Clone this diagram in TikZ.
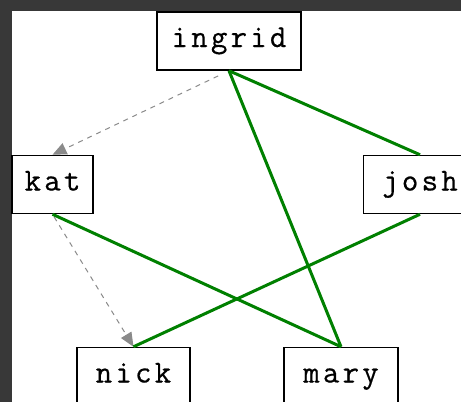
\documentclass[tikz,border=0pt]{standalone}
\usepackage{fontspec}
\newfontfamily\lblfont{Latin Modern Mono}[LetterSpace=10,FakeBold=0.5]
\usetikzlibrary{arrows.meta}
\definecolor{edgegreen}{HTML}{008000}
\definecolor{framegray}{HTML}{383838}
\definecolor{dashgray}{HTML}{8A8A8A}
\begin{document}
\begin{tikzpicture}[x=1pt,y=-1pt,
  person/.style={draw=black,line width=1.5pt,fill=white,inner sep=0pt,
    minimum height=58pt,text height=20pt,text depth=8pt,
    font=\lblfont\fontsize{32}{32}\selectfont},
  tie/.style={draw=edgegreen,line width=3pt},
  knows/.style={draw=dashgray,line width=1pt,dash pattern=on 5pt off 5pt,
    -{Triangle[length=14pt,width=12pt]}}]
\useasboundingbox (0,0) rectangle (461,402);
\clip (0,0) rectangle (461,402);
\fill[framegray] (0,0) rectangle (461,402);
\fill[white] (12,11) rectangle (461,402);
\node[person,minimum width=144pt] (ingrid) at (229,41) {ingrid};
\node[person,minimum width=81pt] (kat) at (52.5,184.5) {kat};
\node[person,minimum width=113pt] (josh) at (420,184.5) {josh};
\node[person,minimum width=113pt] (nick) at (133.5,376.5) {nick};
\node[person,minimum width=114pt] (mary) at (341,376.5) {mary};
\draw[knows,shorten <=12pt] (ingrid.south) -- (kat.north);
\draw[knows,shorten <=3pt] (kat.south) -- (nick.north);
\draw[tie] (ingrid.south) -- (josh.north);
\draw[tie] (ingrid.south) -- (mary.north);
\draw[tie] (kat.south) -- (mary.north);
\draw[tie] (josh.south) -- (nick.north);
\end{tikzpicture}
\end{document}
